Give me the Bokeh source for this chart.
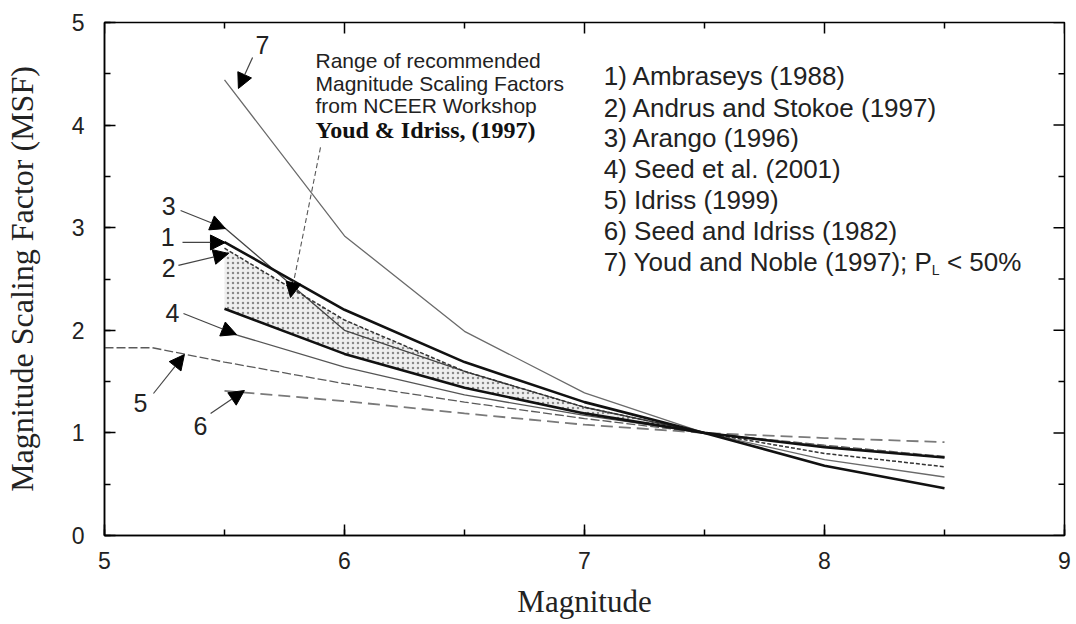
import math
from bokeh.plotting import figure
from bokeh.models import Range1d, SingleIntervalTicker, Arrow, NormalHead
from bokeh.core.properties import value
from bokeh.embed import file_html
from bokeh.resources import INLINE

# ---------------- data ----------------
M_std = [5.5, 6.0, 6.5, 7.0, 7.5, 8.0, 8.5]
ambraseys = [2.86, 2.20, 1.69, 1.30, 1.00, 0.68, 0.46]
andrus_stokoe = [2.80, 2.10, 1.60, 1.25, 1.00, 0.80, 0.67]
arango_m = [5.5, 6.0, 6.5, 7.0, 7.5]
arango = [3.00, 2.00, 1.60, 1.25, 1.00]
seed2001 = [1.99, 1.64, 1.37, 1.17, 1.00, 0.87, 0.76]
idriss1999_m = [5.0, 5.2, 5.5, 6.0, 6.5, 7.0, 7.5, 8.0, 8.5]
idriss1999 = [1.83, 1.83, 1.69, 1.48, 1.30, 1.14, 1.00, 0.88, 0.77]
seed_idriss1982 = [1.41, 1.31, 1.19, 1.08, 1.00, 0.95, 0.91]
youd_noble = [4.44, 2.92, 1.99, 1.39, 1.00, 0.74, 0.57]
nceer_lower = [2.21, 1.77, 1.44, 1.19, 1.00, 0.86, 0.76]

band_m = [5.5, 6.0, 6.5, 7.0, 7.5]
band_low = [2.21, 1.77, 1.44, 1.19, 1.00]
band_high = [2.80, 2.10, 1.60, 1.25, 1.00]

x_ticks = [5, 6, 7, 8, 9]
x_minor = [5.5, 6.5, 7.5, 8.5]
y_ticks = [0, 1, 2, 3, 4, 5]
y_minor = [0.5, 1.5, 2.5, 3.5, 4.5]

legend_items = ["1) Ambraseys (1988)", "2) Andrus and Stokoe (1997)", "3) Arango (1996)",
                "4) Seed et al. (2001)", "5) Idriss (1999)", "6) Seed and Idriss (1982)",
                "7) Youd and Noble (1997); P"]
legend_x = 7.08
legend_y = [4.48, 4.17, 3.87, 3.57, 3.27, 2.97, 2.67]

range_lines = ["Range of recommended", "Magnitude Scaling Factors", "from NCEER Workshop"]
range_bold = "Youd & Idriss, (1997)"
range_x = 5.879
range_y = [4.63, 4.41, 4.19, 3.95]

num_labels = ["7", "3", "1", "2", "4", "5", "6"]
num_x = [5.658, 5.267, 5.263, 5.267, 5.283, 5.15, 5.40]
num_y = [4.776, 3.216, 2.905, 2.612, 2.173, 1.296, 1.072]
arr_x0 = [5.617, 5.317, 5.325, 5.308, 5.329, 5.204, 5.442]
arr_y0 = [4.659, 3.168, 2.856, 2.632, 2.164, 1.384, 1.189]
arr_x1 = [5.558, 5.504, 5.504, 5.517, 5.55, 5.333, 5.583]
arr_y1 = [4.357, 2.992, 2.856, 2.749, 1.959, 1.764, 1.413]

# ---------------- figure ----------------
p = figure(width=1076, height=624, x_range=Range1d(5, 9), y_range=Range1d(0, 5),
           output_backend="svg", toolbar_location=None,
           min_border_left=104, min_border_right=12, min_border_top=22, min_border_bottom=89,
           x_axis_label="Magnitude", y_axis_label="Magnitude Scaling Factor (MSF)")
p.grid.visible = False
p.outline_line_color = "black"
p.outline_line_width = 1.5
p.background_fill_color = "white"
p.border_fill_color = "white"

for ax in (p.xaxis[0], p.yaxis[0]):
    ax.ticker = SingleIntervalTicker(interval=1, num_minor_ticks=2)
    ax.axis_line_color = "black"
    ax.axis_line_width = 1.5
    ax.major_tick_in = 11
    ax.major_tick_out = 0
    ax.minor_tick_in = 6
    ax.minor_tick_out = 0
    ax.major_tick_line_color = "black"
    ax.major_tick_line_width = 1.5
    ax.minor_tick_line_color = "black"
    ax.minor_tick_line_width = 1.5
    ax.major_label_text_font = "Liberation Sans"
    ax.major_label_text_font_size = "23px"
    ax.major_label_text_color = "#222222"
    ax.axis_label_text_font = "Liberation Serif"
    ax.axis_label_text_font_style = "normal"
    ax.axis_label_text_color = "#222222"

p.xaxis[0].axis_label_text_font_size = "31px"
p.yaxis[0].axis_label_text_font_size = "32px"
p.xaxis[0].major_label_standoff = 16
p.xaxis[0].axis_label_standoff = 12
p.yaxis[0].major_label_standoff = 20
p.yaxis[0].axis_label_standoff = 29

# inward ticks on the top and right sides of the frame
p.ray(x=x_ticks, y=[5] * len(x_ticks), length=11, length_units="screen",
      angle=-math.pi / 2, line_color="black", line_width=1.5)
p.ray(x=x_minor, y=[5] * len(x_minor), length=6, length_units="screen",
      angle=-math.pi / 2, line_color="black", line_width=1.5)
p.ray(x=[9] * len(y_ticks), y=y_ticks, length=11, length_units="screen",
      angle=math.pi, line_color="black", line_width=1.5)
p.ray(x=[9] * len(y_minor), y=y_minor, length=6, length_units="screen",
      angle=math.pi, line_color="black", line_width=1.5)

# ---------------- shaded NCEER band ----------------
p.varea(x=band_m, y1=band_low, y2=band_high, fill_color="#efefef",
        hatch_pattern="dot", hatch_color="#8a8a8a", hatch_scale=5, hatch_weight=1.2)

# ---------------- curves ----------------
p.line(M_std, seed_idriss1982, line_color="#7a7a7a", line_width=1.8, line_dash="12 6")
p.line(idriss1999_m, idriss1999, line_color="#5a5a5a", line_width=1.3, line_dash="9 3")
p.line(M_std, seed2001, line_color="#555555", line_width=1.3)
p.line(M_std, youd_noble, line_color="#6a6a6a", line_width=1.3)
p.line(arango_m, arango, line_color="#444444", line_width=1.3)
p.line(M_std, andrus_stokoe, line_color="#333333", line_width=1.5, line_dash="4 2")
p.line(M_std, nceer_lower, line_color="#111111", line_width=2.6)
p.line(M_std, ambraseys, line_color="#111111", line_width=2.6)

# ---------------- arrows & number labels ----------------
for x0, y0, x1, y1 in zip(arr_x0, arr_y0, arr_x1, arr_y1):
    p.add_layout(Arrow(x_start=x0, y_start=y0, x_end=x1, y_end=y1,
                       line_color="#444444", line_width=1.2,
                       end=NormalHead(size=15, fill_color="black", line_color="black")))

p.text(x=num_x, y=num_y, text=num_labels, text_font=value("Liberation Sans"),
       text_font_size=value("25px"), text_color="#222222",
       text_align="center", text_baseline="middle")

# range annotation
p.add_layout(Arrow(x_start=5.9, y_start=3.782, x_end=5.775, y_end=2.32,
                   line_color="#555555", line_width=1.1, line_dash="5 3",
                   end=NormalHead(size=15, fill_color="black", line_color="black")))
p.text(x=[range_x] * 3, y=range_y[:3], text=range_lines, text_font=value("Liberation Sans"),
       text_font_size=value("21px"), text_color="#222222",
       text_align="left", text_baseline="middle")
p.text(x=[range_x], y=[range_y[3]], text=[range_bold], text_font=value("Liberation Serif"),
       text_font_size=value("24px"), text_font_style="bold", text_color="#111111",
       text_align="left", text_baseline="middle")

# legend text
p.text(x=[legend_x] * len(legend_items), y=legend_y, text=legend_items,
       text_font=value("Liberation Sans"), text_font_size=value("26px"),
       text_color="#222222", text_align="left", text_baseline="middle")
p.text(x=[8.447], y=[legend_y[6]], text=["L"], y_offset=8,
       text_font=value("Liberation Sans"), text_font_size=value("14px"),
       text_color="#222222", text_align="left", text_baseline="middle")
p.text(x=[8.51], y=[legend_y[6]], text=["< 50%"],
       text_font=value("Liberation Sans"), text_font_size=value("26px"),
       text_color="#222222", text_align="left", text_baseline="middle")

open("out.html", "w").write(file_html(p, INLINE))
